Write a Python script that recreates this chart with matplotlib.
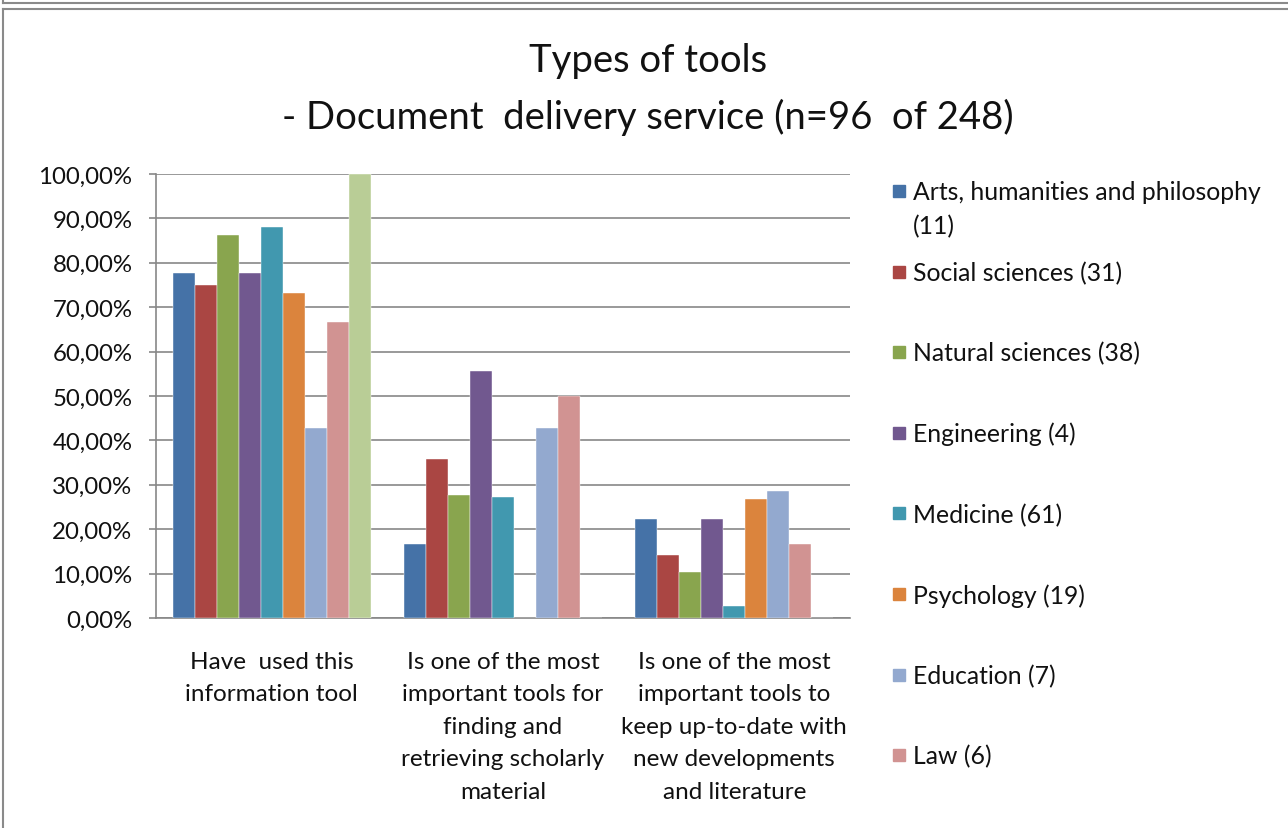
import matplotlib
matplotlib.use('Agg')
import matplotlib.pyplot as plt
from matplotlib.lines import Line2D
from matplotlib.patches import Rectangle
import numpy as np

plt.rcParams['font.family'] = ['Lato', 'DejaVu Sans']

categories = ['Have  used this\ninformation tool',
              'Is one of the most\nimportant tools for\nfinding and\nretrieving scholarly\nmaterial',
              'Is one of the most\nimportant tools to\nkeep up-to-date with\nnew developments\nand literature']

series = ['Arts, humanities and philosophy\n(11)', 'Social sciences (31)',
          'Natural sciences (38)', 'Engineering (4)', 'Medicine (61)',
          'Psychology (19)', 'Education (7)', 'Law (6)', '']

arts = [77.8, 16.7, 22.2]
social = [75.0, 35.7, 14.3]
natural = [86.3, 27.6, 10.3]
engineering = [77.8, 55.6, 22.2]
medicine = [88.0, 27.3, 2.6]
psychology = [73.3, 0.0, 26.7]
education = [42.9, 42.9, 28.6]
law = [66.7, 50.0, 16.7]
other = [100.0, 0.0, 0.0]

values = [arts, social, natural, engineering, medicine, psychology, education, law, other]
colors = ['#4572A7', '#AA4643', '#89A54E', '#71588F', '#4198AF',
          '#DB843D', '#93A9CF', '#D19392', '#B9CD96']

W, H = 1288, 829
fig = plt.figure(figsize=(W / 100, H / 100), dpi=100)
ax = fig.add_axes([156 / W, 1 - 619 / H, 694 / W, 444 / H])

x = np.arange(len(categories))
w = 0.0951
n = len(values)
for i, (vals, c) in enumerate(zip(values, colors)):
    ax.bar(x + (i - (n - 1) / 2) * w, np.array(vals) / 100.0, width=w,
           color=c, edgecolor='white', linewidth=0.3, zorder=3)

grey = '#878787'
txt = '#111111'
ax.set_xlim(-0.5, 2.5)
ax.set_ylim(0, 1.0)
ax.set_yticks(np.arange(0, 1.01, 0.1))
ax.set_yticklabels([('%.2f%%' % (v * 100)).replace('.', ',') for v in np.arange(0, 1.01, 0.1)])
ax.yaxis.grid(True, color=grey, linewidth=1.2, zorder=0)
ax.set_axisbelow(True)
ax.set_xticks(x)
ax.set_xticklabels(categories, linespacing=1.68, va='top')
ax.tick_params(axis='x', length=0, pad=23.5, labelsize=17.5, labelcolor=txt)
ax.tick_params(axis='y', length=5, width=1.2, color=grey, pad=12, labelsize=17.3,
               labelcolor=txt)
for s in ['top', 'right']:
    ax.spines[s].set_visible(False)
for s in ['left', 'bottom']:
    ax.spines[s].set_color(grey)
    ax.spines[s].set_linewidth(1.2)

# title
fig.text(648 / W, 1 - 61 / H, 'Types of tools', ha='center', va='center',
         fontsize=27.5, color=txt)
fig.text(648 / W, 1 - 117 / H, '- Document  delivery service (n=96  of 248)',
         ha='center', va='center', fontsize=27.5, color=txt)

# legend (only the eight named series); baseline of a multi-line text is its last line
for i in range(8):
    yc = 192 + i * 80.6
    extra = series[i].count('\n') * 32
    fig.patches.append(Rectangle((893 / W, 1 - (yc + 6) / H), 12 / W, 12 / H,
                                 transform=fig.transFigure, color=colors[i]))
    fig.text(913 / W, 1 - (yc + 8.5 + extra + (2 if extra else 0)) / H, series[i],
             ha='left', va='baseline', fontsize=17.8, color=txt, linespacing=1.6)

# chart frame
for xs, ys in [([3, W], [4, 4]), ([3, 3], [0, 4]), ([3, W], [10, 10]), ([3, 3], [10, H])]:
    fig.add_artist(Line2D([v / W for v in xs], [1 - v / H for v in ys],
                          transform=fig.transFigure, color='#8a8a8a', linewidth=1.5))

fig.savefig('out.png', dpi=100)
